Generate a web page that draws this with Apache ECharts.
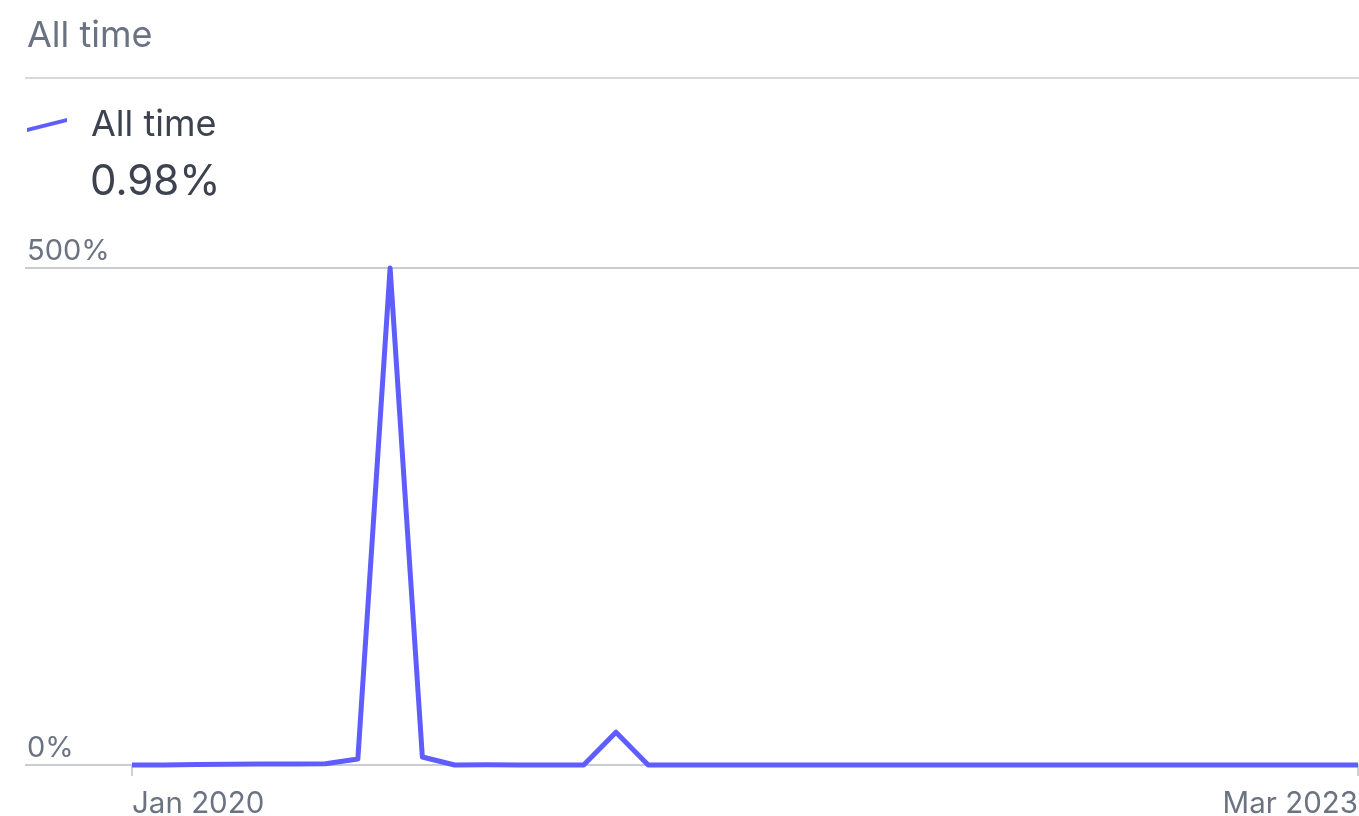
<!DOCTYPE html>
<html>
<head>
<meta charset="utf-8">
<script src="https://cdn.jsdelivr.net/npm/echarts@6/dist/echarts.min.js"></script>
<style>
html,body{margin:0;padding:0;background:#fff;}
#chart{width:1359px;height:816px;}
</style>
</head>
<body>
<div id="chart"></div>
<script>
const headerTitle = 'All time';
const seriesName = 'All time';
const summaryValue = '0.98%';
const months = ['Jan 2020','Feb 2020','Mar 2020','Apr 2020','May 2020','Jun 2020','Jul 2020','Aug 2020','Sep 2020','Oct 2020','Nov 2020','Dec 2020',
  'Jan 2021','Feb 2021','Mar 2021','Apr 2021','May 2021','Jun 2021','Jul 2021','Aug 2021','Sep 2021','Oct 2021','Nov 2021','Dec 2021',
  'Jan 2022','Feb 2022','Mar 2022','Apr 2022','May 2022','Jun 2022','Jul 2022','Aug 2022','Sep 2022','Oct 2022','Nov 2022','Dec 2022',
  'Jan 2023','Feb 2023','Mar 2023'];
const values = [0,0,0.5,0.8,1,1,1.2,6,500,8,0,0.3,
  0,0,0,33,0,0,0,0,0,0,0,0,
  0,0,0,0,0,0,0,0,0,0,0,0,
  0,0,0];
const yTicks = [0, 500];

const FONT = 'Inter, "Noto Sans", sans-serif';
const LINE = '#605dff';
const edge = (i) => i === 0 || i === months.length - 1;

const chart = echarts.init(document.getElementById('chart'), null, {renderer:'canvas'});
chart.setOption({
  animation:false,
  title:{text:headerTitle,left:22,top:13,padding:[5,5,5,5],textStyle:{fontFamily:FONT,fontSize:36,fontWeight:'normal',color:'#6b7382'}},
  legend:{left:27,top:107,padding:0,itemWidth:40,itemHeight:14,itemGap:10,
    icon:'path://M0,10 L40,0 L40,4 L0,14 Z',
    textStyle:{fontFamily:FONT,fontSize:36,color:'#3d4250',padding:[0,0,0,19]},
    data:[seriesName]},
  graphic:[
    {type:'line',shape:{x1:25,y1:78,x2:1359,y2:78},style:{stroke:'#d7d9de',lineWidth:2},silent:true},
    {type:'text',left:90,top:161,style:{text:summaryValue,font:'normal 42px '+FONT,fill:'#3d4250'},silent:true}
  ],
  grid:[
    {left:132,right:1,top:268,bottom:51,outerBoundsMode:'none',containLabel:false},
    {left:25,right:0,top:268,bottom:51,outerBoundsMode:'none',containLabel:false}
  ],
  xAxis:[
    {type:'category',gridIndex:0,data:months,boundaryGap:false,offset:6,
      axisLine:{show:false},
      axisTick:{show:true,interval:(i)=>edge(i),length:11,lineStyle:{color:'#cdd0d5',width:2}},
      axisLabel:{interval:(i)=>edge(i),margin:18,fontFamily:FONT,fontSize:29.5,color:'#6b7382',
        alignMinLabel:'left',alignMaxLabel:'right',showMinLabel:true,showMaxLabel:true},
      splitLine:{show:false}},
    {type:'category',gridIndex:1,data:months,show:false}
  ],
  yAxis:[
    {type:'value',gridIndex:0,min:yTicks[0],max:yTicks[1],interval:500,show:false,splitLine:{show:false}},
    {type:'value',gridIndex:1,min:yTicks[0],max:yTicks[1],interval:500,
      axisLine:{show:false},axisTick:{show:false},
      axisLabel:{inside:true,margin:2,verticalAlign:'bottom',align:'left',padding:[0,0,2,0],
        fontFamily:FONT,fontSize:29,color:'#6b7382',formatter:(v)=>v+'%'},
      splitLine:{show:true,lineStyle:{color:'#c9ccd2',width:2}}}
  ],
  series:[
    {name:seriesName,type:'line',xAxisIndex:0,yAxisIndex:0,data:values,showSymbol:false,clip:false,
      lineStyle:{color:LINE,width:5,join:'round'},itemStyle:{color:LINE},z:5}
  ]
});
</script>
</body>
</html>
